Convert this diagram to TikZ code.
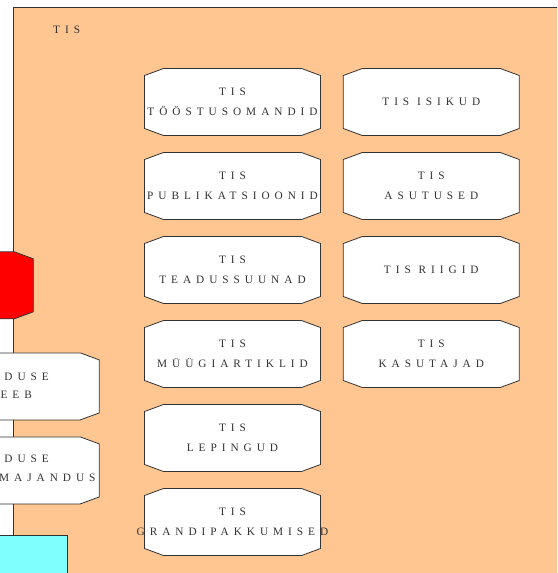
\documentclass[tikz,border=0pt]{standalone}
\usepackage{fontspec}
\setmainfont{Liberation Serif}
\newfontfamily\spaced[LetterSpace=44]{Liberation Serif}
\definecolor{orangebg}{RGB}{255,198,146}
\definecolor{cyanbox}{RGB}{128,255,255}
\definecolor{ink}{RGB}{50,50,50}
\tikzset{
 lbl/.style={font=\spaced\fontsize{11.3}{20}\selectfont, text=ink, align=center, inner sep=0pt},
 frag/.style={font=\spaced\fontsize{11.3}{20}\selectfont, text=ink, inner sep=0pt, anchor=base east},
 octo/.style={draw=ink, line width=0.8pt, fill=white},
 boxnode/.style={lbl, minimum width=176pt, minimum height=67pt},
}
\newcommand\octpath[3]{%
 \path[#3, shift={(#1,#2)}] (-69,-33.5) -- (69,-33.5) -- (88,-26.5) -- (88,26.5) -- (69,33.5) -- (-69,33.5) -- (-88,26.5) -- (-88,-26.5) -- cycle;}
\newcommand\obox[4]{\octpath{#2}{#3}{octo}\node[boxnode] (#1) at (#2,#3) {#4};}
\begin{document}
\begin{tikzpicture}[x=1pt,y=-1pt]
\useasboundingbox (0,0) rectangle (557,573);
\clip (0,0) rectangle (557,573);
\fill[white] (0,0) rectangle (557,573);
\draw[ink, line width=0.8pt, fill=orangebg] (13,7) rectangle (600,620);
\node[frag, anchor=base west] (title) at (53,33) {TIS};
% left side shapes
\octpath{-54.7}{285.3}{draw=ink, line width=0.8pt, fill=red}
\octpath{11.3}{386.4}{octo}
\node[frag] (l1a) at (49,380) {DUSE};
\node[frag] (l1b) at (32,398.3) {EEB};
\octpath{11.3}{470.4}{octo}
\node[frag] (l2a) at (49,462.7) {DUSE};
\node[frag] (l2b) at (95.7,481.7) {MAJANDUS};
\draw[ink, line width=0.8pt, fill=cyanbox] (-10,535.7) rectangle (67.7,600);
% column 1
\obox{b1}{232.5}{102}{TIS\\TÖÖSTUSOMANDID}
\obox{b2}{232.5}{186}{TIS\\PUBLIKATSIOONID}
\obox{b3}{232.5}{270}{TIS\\TEADUSSUUNAD}
\obox{b4}{232.5}{354}{TIS\\MÜÜGIARTIKLID}
\obox{b5}{232.5}{438}{TIS\\LEPINGUD}
\obox{b6}{232.5}{522}{TIS\\GRANDIPAKKUMISED}
% column 2
\obox{c1}{431.3}{102}{TIS ISIKUD}
\obox{c2}{431.3}{186}{TIS\\ASUTUSED}
\obox{c3}{431.3}{270}{TIS RIIGID}
\obox{c4}{431.3}{354}{TIS\\KASUTAJAD}
\end{tikzpicture}
\end{document}
